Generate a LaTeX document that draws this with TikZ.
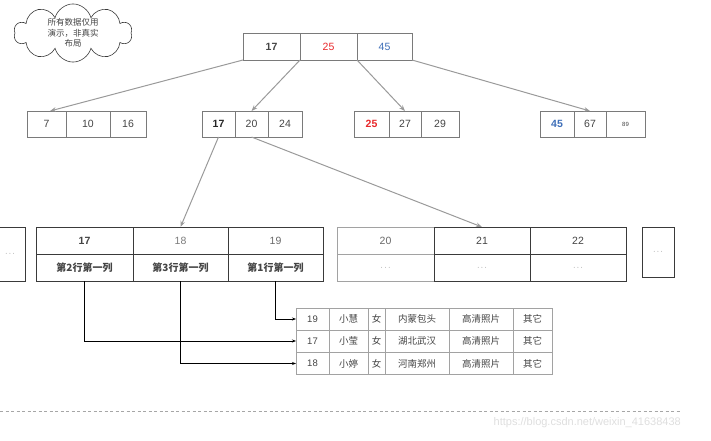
\documentclass[tikz,border=0pt]{standalone}
\usepackage{fontspec}
\setmainfont{Liberation Sans}
\newfontfamily\cjk{Noto Sans CJK SC}
\usetikzlibrary{shapes.symbols,arrows.meta}
\definecolor{txt}{HTML}{444444}
\definecolor{keyred}{HTML}{E8282B}
\definecolor{keyblue}{HTML}{3F6FB8}
\definecolor{boxline}{HTML}{7A7A7A}
\definecolor{darkline}{HTML}{3A3A3A}
\definecolor{ptr}{HTML}{9A9A9A}
\tikzset{
  cell/.style={draw=boxline, line width=0.8pt, inner sep=0pt, outer sep=0pt,
    text=txt, font=\fontsize{10.5}{12}\selectfont},
  rootcell/.style={cell, minimum height=27},
  midcell/.style={cell, minimum height=26},
  leafcell/.style={cell, draw=darkline, minimum height=27},
  rowcell/.style={cell, draw=boxline!70, minimum height=22, font=\fontsize{9.5}{11}\selectfont},
  ptrarrow/.style={draw=ptr, line width=1pt, -{Stealth[length=6pt,width=4.5pt]}},
  rowarrow/.style={draw=black, line width=0.7pt, -{Stealth[length=4pt,width=3pt]}},
  dotsbox/.style={draw=darkline, line width=0.8pt, inner sep=0pt, text=txt,
    font=\fontsize{7}{8}\selectfont},
}
\begin{document}
\begin{tikzpicture}[x=1pt, y=-1pt]
\useasboundingbox (0,0) rectangle (711,441);

% note cloud
\node[cloud, cloud puffs=10, aspect=2.0, draw=darkline, line width=0.6pt,
  minimum width=118, minimum height=57, inner sep=0pt, align=center,
  font=\cjk\fontsize{8.5}{10.5}\selectfont, text=txt] (note) at (73,33)
  {所有数据仅用\\演示，非真实\\布局};

% root node
\node[rootcell, minimum width=57, font=\bfseries\fontsize{10.5}{12}\selectfont] (r1) at (271.5,46.5) {17};
\node[rootcell, minimum width=57, text=keyred] (r2) at (328.5,46.5) {25};
\node[rootcell, minimum width=55, text=keyblue] (r3) at (384.5,46.5) {45};

% second level
\node[midcell, minimum width=39] (a1) at (46.5,124) {7};
\node[midcell, minimum width=44] (a2) at (88,124) {10};
\node[midcell, minimum width=36] (a3) at (128,124) {16};

\node[midcell, minimum width=33, font=\bfseries\fontsize{10.5}{12}\selectfont, text=black!85] (b1) at (218.5,124) {17};
\node[midcell, minimum width=33] (b2) at (251.5,124) {20};
\node[midcell, minimum width=34] (b3) at (285,124) {24};

\node[midcell, minimum width=35, text=keyred, font=\bfseries\fontsize{10.5}{12}\selectfont] (c1) at (371.5,124) {25};
\node[midcell, minimum width=32] (c2) at (405,124) {27};
\node[midcell, minimum width=38] (c3) at (440,124) {29};

\node[midcell, minimum width=34, text=keyblue, font=\bfseries\fontsize{10.5}{12}\selectfont] (d1) at (557,124) {45};
\node[midcell, minimum width=32] (d2) at (590,124) {67};
\node[midcell, minimum width=39, font=\fontsize{6}{7}\selectfont] (d3) at (625.5,124) {89};

% pointers from root
\draw[ptrarrow] (r1.south west) -- ([xshift=3.5pt]a1.north);
\draw[ptrarrow] (r1.south east) -- (b2.north);
\draw[ptrarrow] (r2.south east) -- (c2.north);
\draw[ptrarrow] (r3.south east) -- (d2.north);

% leaf pages
\node[dotsbox, minimum width=30, minimum height=54] (lx) at (10,254) {$\cdots$};

\node[leafcell, minimum width=97, font=\bfseries\fontsize{10.5}{12}\selectfont] (l1) at (84.5,240.5) {17};
\node[leafcell, minimum width=95, text=txt!70] (l2) at (180.5,240.5) {18};
\node[leafcell, minimum width=95, text=txt!80] (l3) at (275.5,240.5) {19};
\node[leafcell, minimum width=97, font=\cjk\bfseries\fontsize{10}{11}\selectfont] (lb1) at (84.5,267.5) {第2行第一列};
\node[leafcell, minimum width=95, font=\cjk\bfseries\fontsize{10}{11}\selectfont] (lb2) at (180.5,267.5) {第3行第一列};
\node[leafcell, minimum width=95, font=\cjk\bfseries\fontsize{10}{11}\selectfont] (lb3) at (275.5,267.5) {第1行第一列};

\node[leafcell, draw=boxline!70, minimum width=97, text=txt!80] (m1) at (385.5,240.5) {20};
\node[leafcell, minimum width=96] (m2) at (482,240.5) {21};
\node[leafcell, minimum width=96] (m3) at (578,240.5) {22};
\node[leafcell, draw=boxline!70, minimum width=97, font=\fontsize{7}{8}\selectfont] (mb1) at (385.5,267.5) {$\cdots$};
\node[leafcell, minimum width=96, font=\fontsize{7}{8}\selectfont] (mb2) at (482,267.5) {$\cdots$};
\node[leafcell, minimum width=96, font=\fontsize{7}{8}\selectfont] (mb3) at (578,267.5) {$\cdots$};

\node[dotsbox, minimum width=32, minimum height=50] (rx) at (658,252) {$\cdots$};

% pointers from the inner node to its leaves
\draw[ptrarrow] (b1.south) -- (l2.north);
\draw[ptrarrow] (b2.south) -- (m2.north);

% data rows
\foreach \r/\y/\id/\name/\city in {1/319/19/小慧/内蒙包头, 2/341/17/小莹/湖北武汉, 3/363.5/18/小婷/河南郑州} {
  \node[rowcell, minimum width=33] (t\r1) at (312.5,\y) {\id};
  \node[rowcell, minimum width=39, font=\cjk\fontsize{9.5}{11}\selectfont] (t\r2) at (348.5,\y) {\name};
  \node[rowcell, minimum width=17, font=\cjk\fontsize{9.5}{11}\selectfont] (t\r3) at (376.5,\y) {女};
  \node[rowcell, minimum width=64, font=\cjk\fontsize{9.5}{11}\selectfont] (t\r4) at (417,\y) {\city};
  \node[rowcell, minimum width=64, font=\cjk\fontsize{9.5}{11}\selectfont] (t\r5) at (481,\y) {高清照片};
  \node[rowcell, minimum width=39, font=\cjk\fontsize{9.5}{11}\selectfont] (t\r6) at (532.5,\y) {其它};
}

% leaf entries point to their rows
\draw[rowarrow] (lb3.south) |- (t11.west);
\draw[rowarrow] (lb1.south) |- (t21.west);
\draw[rowarrow] (lb2.south) |- (t31.west);

% bottom rule and footer
\coordinate (ruleL) at (0,411);
\coordinate (ruleR) at (681,411);
\draw[draw=black!35, line width=0.8pt, dash pattern=on 3pt off 2.5pt] (ruleL) -- (ruleR);
\node[anchor=east, text=black!13, font=\fontsize{11}{13}\selectfont, inner sep=0pt] (foot) at (681,423) {https://blog.csdn.net/weixin\_41638438};
\end{tikzpicture}
\end{document}
